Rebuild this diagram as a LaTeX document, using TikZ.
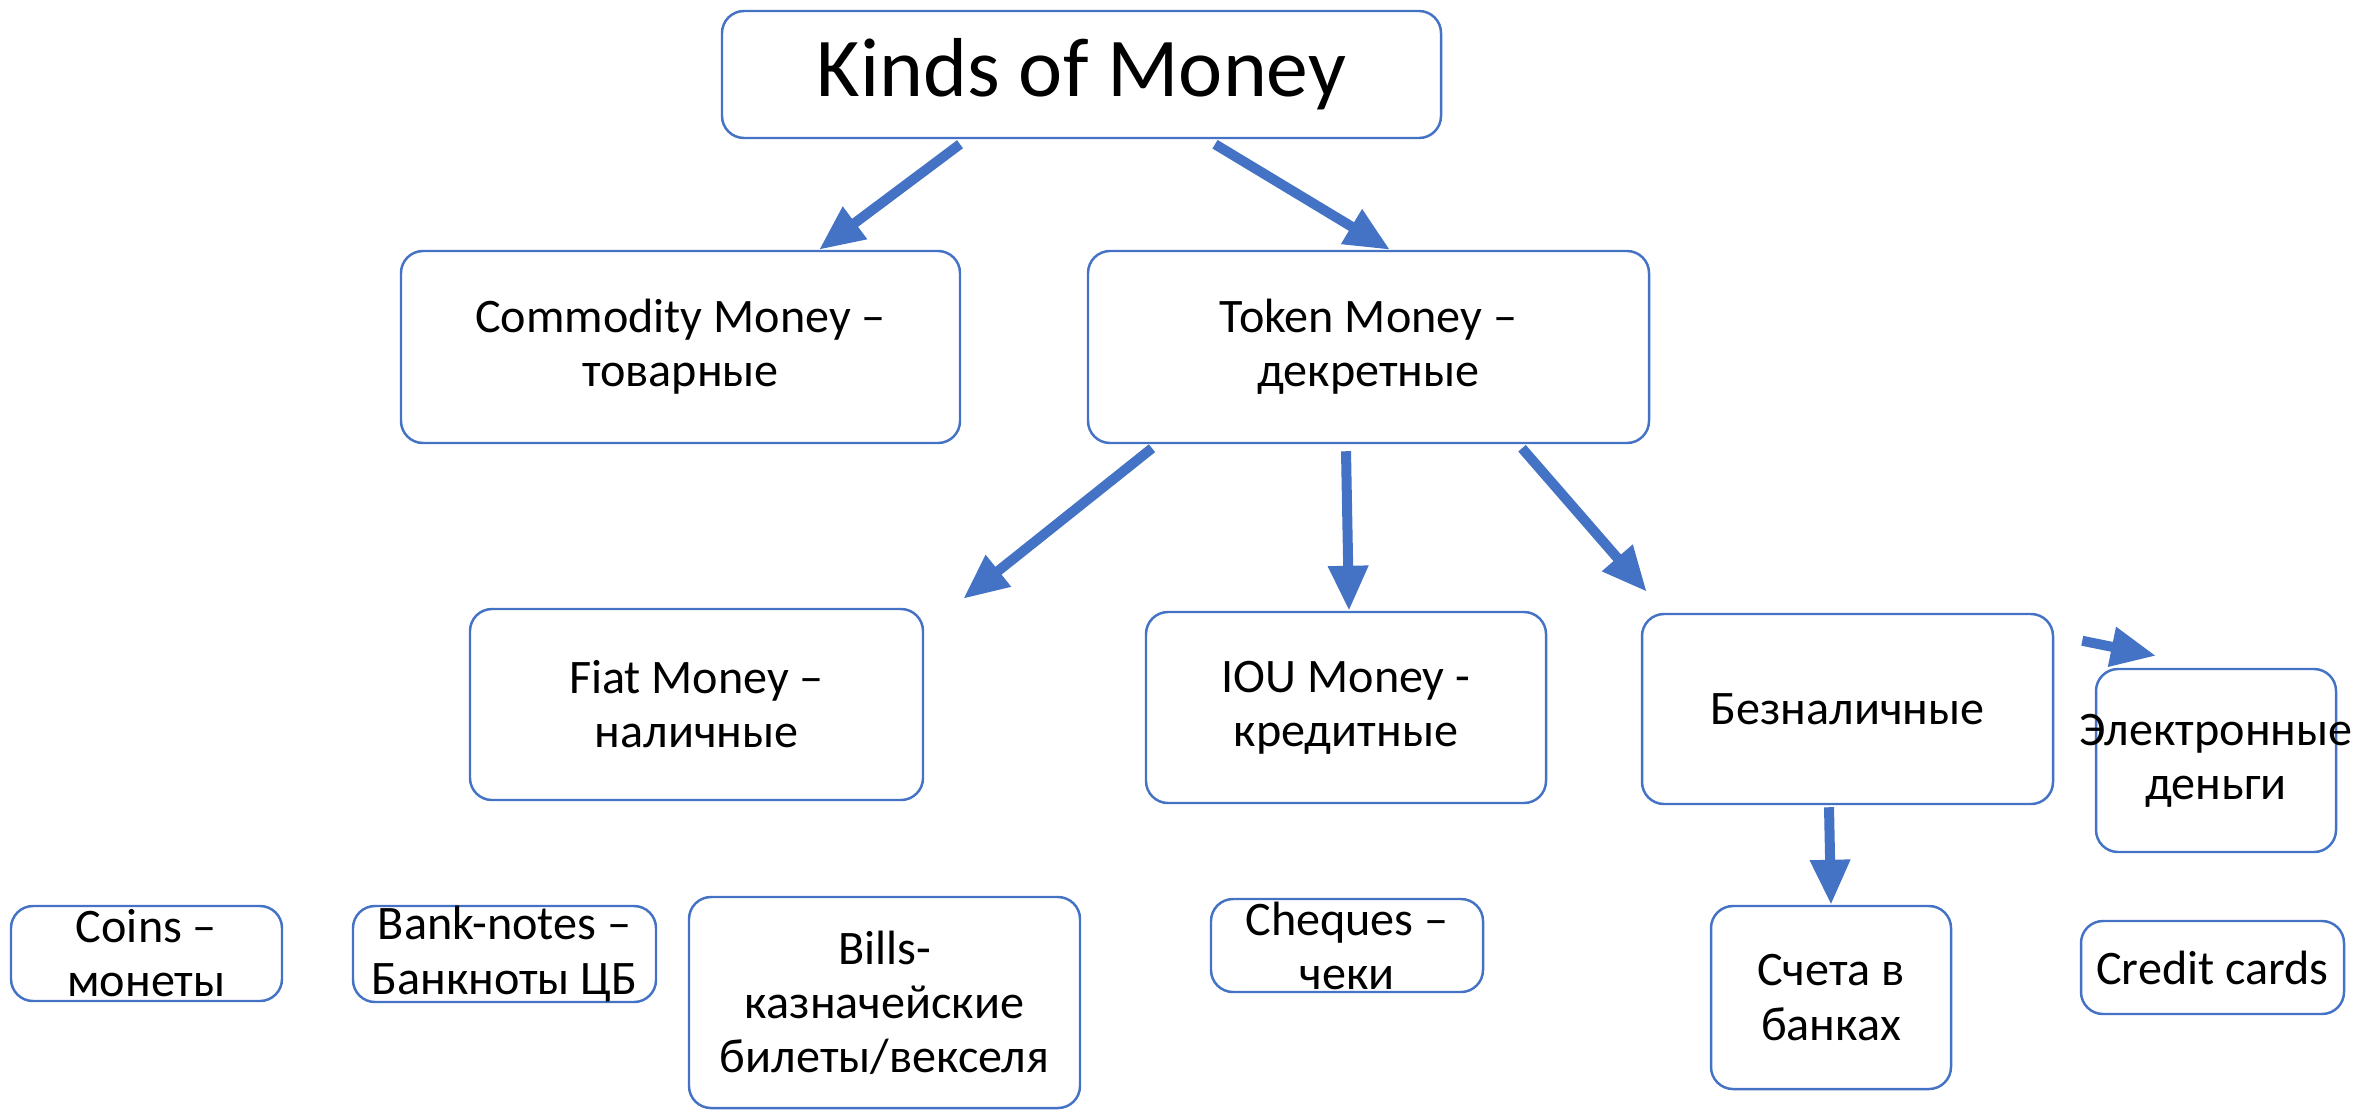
\documentclass[tikz,border=0pt]{standalone}
\usepackage{fontspec}
\setmainfont{Carlito}
\usepackage{xcolor}
\usepackage{tikz}
\usetikzlibrary{arrows.meta}
\definecolor{msblue}{RGB}{68,114,196}

\begin{document}
\begin{tikzpicture}[
	box/.style={draw=msblue, line width=0.7pt, rounded corners=0.22cm, inner sep=0pt, align=center, font=\fontsize{13.7}{15.4}\selectfont},
	link/.style={draw=msblue, line width=0.1cm, -{Triangle[length=0.45cm,width=0.38cm]}}
	]
	\useasboundingbox (0,0) rectangle (23.53,-11.11);
	\node[box, minimum width=7.19cm, minimum height=1.27cm, font=\fontsize{23.8}{26}\selectfont] (kinds) at (10.815,-0.745) {Kinds of Money};
	\node[box, minimum width=5.59cm, minimum height=1.92cm] (commodity) at (6.805,-3.47) {Commodity Money --\\товарные};
	\node[box, minimum width=5.61cm, minimum height=1.92cm] (token) at (13.685,-3.47) {Token Money --\\декретные};
	\node[box, minimum width=4.53cm, minimum height=1.91cm] (fiat) at (6.965,-7.045) {Fiat Money --\\наличные};
	\node[box, minimum width=4.00cm, minimum height=1.91cm] (iou) at (13.46,-7.075) {IOU Money -\\кредитные};
	\node[box, minimum width=4.11cm, minimum height=1.90cm] (bezn) at (18.475,-7.09) {Безналичные};
	\node[box, minimum width=2.40cm, minimum height=1.83cm] (elec) at (22.16,-7.605) {\makebox[0pt]{Электронные}\\деньги};
	\node[box, minimum width=2.71cm, minimum height=0.95cm] (coins) at (1.465,-9.535) {Coins --\\монеты};
	\node[box, minimum width=3.03cm, minimum height=0.96cm] (banknotes) at (5.045,-9.54) {Bank-notes --\\Банкноты ЦБ};
	\node[box, minimum width=3.91cm, minimum height=2.11cm] (bills) at (8.845,-10.025) {Bills-\\казначейские\\билеты/векселя};
	\node[box, minimum width=2.72cm, minimum height=0.93cm] (cheques) at (13.47,-9.455) {Cheques --\\чеки};
	\node[box, minimum width=2.40cm, minimum height=1.83cm] (scheta) at (18.31,-9.975) {Счета в\\банках};
	\node[box, minimum width=2.63cm, minimum height=0.93cm] (credit) at (22.125,-9.675) {Credit cards};
	\draw[link] ([xshift=-1.215cm,yshift=-0.05cm]kinds.south) -- ([xshift=1.385cm]commodity.north);
	\draw[link] ([xshift=1.335cm,yshift=-0.05cm]kinds.south) -- ([xshift=0.215cm]token.north);
	\draw[link] ([xshift=-2.165cm,yshift=-0.04cm]token.south) -- ([xshift=0.39cm,yshift=0.09cm]fiat.north east);
	\draw[link] ([xshift=-0.225cm,yshift=-0.07cm]token.south) -- ([xshift=0.03cm]iou.north);
	\draw[link] ([xshift=1.535cm,yshift=-0.04cm]token.south) -- ([xshift=0.06cm,yshift=0.21cm]bezn.north west);
	\draw[link] ([xshift=0.28cm,yshift=-0.28cm]bezn.north east) -- ([xshift=-0.6cm,yshift=0.12cm]elec.north);
	\draw[link] ([xshift=-0.185cm,yshift=-0.02cm]bezn.south) -- (scheta.north);
\end{tikzpicture}
\end{document}
